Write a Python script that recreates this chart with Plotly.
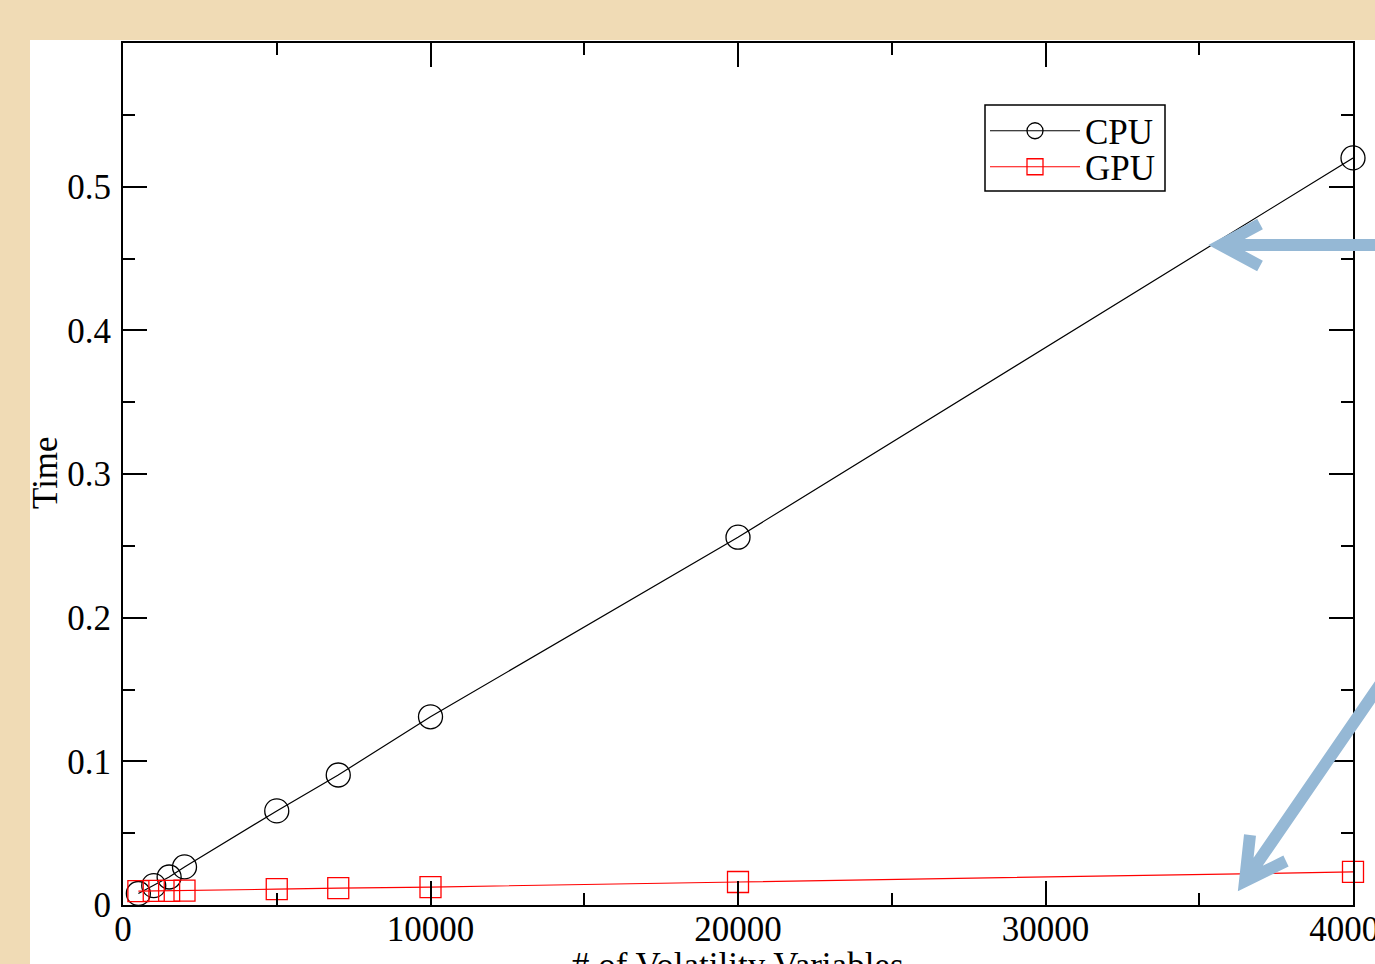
import plotly.graph_objects as go

# ---- data ----
n_vars = [500, 1000, 1500, 2000, 5000, 7000, 10000, 20000, 40000]
cpu_time = [0.008, 0.0135, 0.0195, 0.0265, 0.0655, 0.0905, 0.131, 0.256, 0.52]
gpu_time = [0.0097, 0.0098, 0.0099, 0.0100, 0.011, 0.0118, 0.0125, 0.016, 0.023]
x_ticks = [0, 10000, 20000, 30000, 40000]
x_tick_text = ["0", "10000", "20000", "30000", "40000"]
y_ticks = [0, 0.1, 0.2, 0.3, 0.4, 0.5]
y_tick_text = ["0", "0.1", "0.2", "0.3", "0.4", "0.5"]
x_title = "# of Volatility Variables"
y_title = "Time"

W, H = 1375, 964
L, R, T, B = 123, 22, 43, 59
PW, PH = W - L - R, H - T - B

def px(x):
    return (x - L) / PW

def py(y):
    return (H - B - y) / PH

FONT = "Liberation Serif, Times New Roman, serif"
FS = 35
BEIGE = "#F0DBB5"
ARROW = "#95B8D5"

fig = go.Figure()
fig.add_trace(go.Scatter(
    x=n_vars, y=cpu_time, name="CPU", mode="lines+markers", legend="legend",
    line=dict(color="black", width=1.2), cliponaxis=False,
    marker=dict(symbol="circle-open", size=24, color="black", line=dict(width=1.3)),
))
fig.add_trace(go.Scatter(
    x=n_vars, y=gpu_time, name="GPU", mode="lines+markers", legend="legend2",
    line=dict(color="red", width=1.2), cliponaxis=False,
    marker=dict(symbol="square-open", size=21, color="red", line=dict(width=1.3)),
))

shapes = [
    dict(type="rect", xref="paper", yref="paper", layer="below",
         x0=px(30), x1=px(1400), y0=py(1000), y1=py(40),
         fillcolor="white", line=dict(width=0)),
    # legend frame
    dict(type="rect", xref="paper", yref="paper", layer="above",
         x0=px(985), x1=px(1165), y0=py(191), y1=py(105),
         fillcolor="rgba(0,0,0,0)", line=dict(color="black", width=1.5)),
    dict(type="path", xref="paper", yref="paper", layer="above",
         path=f"M {px(1390)},{py(245)} L {px(1222)},{py(245)} "
              f"M {px(1260)},{py(224)} L {px(1221)},{py(245)} L {px(1260)},{py(266)}",
         line=dict(color=ARROW, width=12)),
    dict(type="path", xref="paper", yref="paper", layer="above",
         path=f"M {px(1390)},{py(670)} L {px(1247)},{py(878)} "
              f"M {px(1250)},{py(835)} L {px(1245)},{py(881)} L {px(1286)},{py(861)}",
         line=dict(color=ARROW, width=12)),
]

annotations = [
    dict(text=x_title, xref="paper", yref="paper", x=px(738), y=py(944),
         xanchor="center", yanchor="top", showarrow=False,
         font=dict(family=FONT, size=FS, color="black")),
    dict(text=y_title, xref="paper", yref="paper", x=px(45), y=py(473),
         xanchor="center", yanchor="middle", showarrow=False, textangle=-90,
         font=dict(family=FONT, size=FS, color="black")),
]

axis_common = dict(
    showline=True, linecolor="black", linewidth=2, mirror="allticks",
    ticks="inside", ticklen=24, tickwidth=1.5, tickcolor="black",
    showgrid=False, zeroline=False, ticklabeloverflow="allow",
    tickfont=dict(family=FONT, size=FS, color="black"),
)

legend_common = dict(
    xanchor="left", yanchor="middle",
    bgcolor="rgba(0,0,0,0)", borderwidth=0,
    font=dict(family=FONT, size=FS, color="black"),
    itemsizing="trace", itemwidth=90,
)

fig.update_layout(
    width=W, height=H,
    margin=dict(l=L, r=R, t=T, b=B, autoexpand=False),
    paper_bgcolor=BEIGE, plot_bgcolor="white",
    shapes=shapes, annotations=annotations,
    showlegend=True,
    legend=dict(x=px(985), y=py(131), **legend_common),
    legend2=dict(x=px(985), y=py(167), **legend_common),
    xaxis=dict(
        range=[0, 40000], tickvals=x_ticks, ticktext=x_tick_text,
        minor=dict(dtick=5000, ticks="inside", ticklen=12, tickwidth=1.5, tickcolor="black"),
        ticklabelstandoff=-8,
        **axis_common,
    ),
    yaxis=dict(
        range=[0, 0.6], tickvals=y_ticks, ticktext=y_tick_text,
        minor=dict(dtick=0.05, ticks="inside", ticklen=12, tickwidth=1.5, tickcolor="black"),
        ticklabelstandoff=3,
        **axis_common,
    ),
)

fig.write_html("out.html", config={"displayModeBar": False},
               post_script="document.body.style.margin='0';")
